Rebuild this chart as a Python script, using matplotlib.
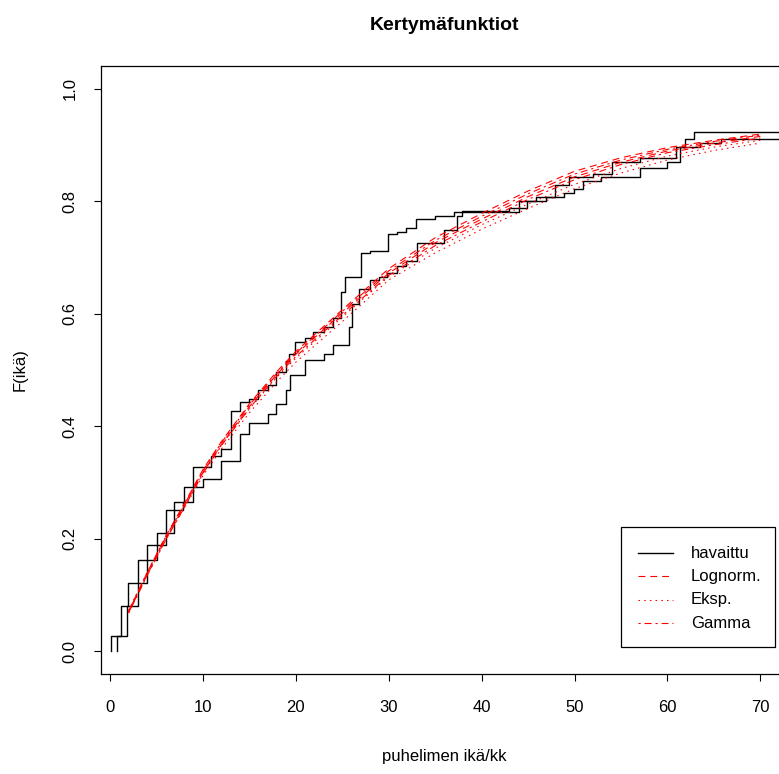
import numpy as np
import matplotlib
matplotlib.use("Agg")
import matplotlib.pyplot as plt
from matplotlib.lines import Line2D
from matplotlib.patches import Rectangle

plt.rcParams['font.family'] = ['Liberation Sans', 'DejaVu Sans']
plt.rcParams['lines.scale_dashes'] = False

obs1_x = [0.1, 1.15, 1.97, 2.98, 3.98, 5.02, 5.99, 6.89, 7.95, 8.97, 10.9, 12.0, 13.0, 14.0,
          15.0, 15.9, 17.0, 17.9, 18.9, 19.3, 19.9, 21.0, 21.9, 23.0, 24.0, 24.9, 25.3, 27.0,
          28.0, 29.9, 30.9, 31.9, 32.9, 35.0, 37.0, 44.0, 44.9, 46.9, 48.9, 49.9, 50.9, 52.9,
          57.1, 59.9, 61.4, 61.9, 62.9]
obs1_f = [0.027, 0.081, 0.122, 0.163, 0.190, 0.211, 0.252, 0.265, 0.292, 0.327, 0.348, 0.360,
          0.428, 0.443, 0.449, 0.464, 0.473, 0.497, 0.516, 0.529, 0.550, 0.557, 0.568, 0.577,
          0.592, 0.639, 0.666, 0.708, 0.712, 0.742, 0.746, 0.752, 0.769, 0.774, 0.781, 0.788,
          0.800, 0.807, 0.815, 0.822, 0.835, 0.843, 0.859, 0.870, 0.897, 0.910, 0.923]

obs2_x = [0.8, 1.83, 2.98, 3.98, 5.02, 5.99, 6.89, 7.89, 8.97, 9.97, 12.0, 14.0, 15.0, 17.0,
          17.9, 18.9, 19.4, 21.0, 23.0, 24.0, 25.7, 26.0, 26.8, 28.0, 28.9, 29.8, 30.9, 31.9,
          33.0, 36.0, 37.4, 37.9, 42.9, 44.0, 45.9, 47.9, 49.4, 52.0, 54.0, 57.0, 60.9, 63.5,
          65.8]
obs2_f = [0.027, 0.081, 0.122, 0.163, 0.190, 0.211, 0.252, 0.265, 0.292, 0.307, 0.339, 0.387,
          0.405, 0.421, 0.440, 0.464, 0.491, 0.517, 0.529, 0.544, 0.577, 0.618, 0.643, 0.660,
          0.666, 0.672, 0.684, 0.693, 0.725, 0.748, 0.774, 0.782, 0.788, 0.800, 0.807, 0.828,
          0.842, 0.849, 0.870, 0.876, 0.897, 0.904, 0.910]

# fitted cdf curves, read at these ages
fit_x = [2, 4, 6, 8, 10, 12, 15, 18, 20, 25, 30, 35, 40, 45, 50, 55, 60, 65, 70]
lnorm1 = [0.072, 0.140, 0.205, 0.263, 0.323, 0.373, 0.440, 0.498, 0.533, 0.607, 0.680, 0.735,
          0.778, 0.818, 0.853, 0.877, 0.895, 0.908, 0.919]
lnorm2 = [0.069, 0.136, 0.200, 0.258, 0.318, 0.368, 0.435, 0.493, 0.528, 0.601, 0.672, 0.726,
          0.768, 0.808, 0.843, 0.869, 0.889, 0.903, 0.915]
gamma1 = [0.071, 0.139, 0.203, 0.261, 0.321, 0.371, 0.438, 0.495, 0.530, 0.604, 0.676, 0.730,
          0.773, 0.813, 0.848, 0.873, 0.892, 0.906, 0.917]
gamma2 = [0.068, 0.135, 0.198, 0.256, 0.316, 0.366, 0.432, 0.490, 0.524, 0.597, 0.668, 0.721,
          0.763, 0.803, 0.838, 0.865, 0.886, 0.900, 0.912]
exp1 = [0.073, 0.141, 0.204, 0.260, 0.318, 0.367, 0.431, 0.488, 0.521, 0.594, 0.666, 0.716,
        0.758, 0.795, 0.830, 0.858, 0.880, 0.896, 0.908]
exp2 = [0.070, 0.137, 0.199, 0.255, 0.312, 0.360, 0.424, 0.480, 0.514, 0.586, 0.660, 0.708,
        0.750, 0.787, 0.822, 0.850, 0.873, 0.890, 0.903]

legend_labels = ["havaittu", "Lognorm.", "Eksp.", "Gamma"]

W, H = 779, 774
fig = plt.figure(figsize=(W / 100, H / 100), dpi=100)
ax = fig.add_axes([101 / W, 100 / H, 686 / W, 608 / H])

dashed = (0, (5, 3.5))
dotted = (0, (1.1, 3))
dashdot = (0, (1.6, 2.8, 5, 2.8))

for xs, fs in [(obs1_x, obs1_f), (obs2_x, obs2_f)]:
    sx = np.r_[xs[0], xs, 80]
    sy = np.r_[0, fs, fs[-1]]
    ax.step(sx, sy, where='post', color='black', lw=1.0)

for ys in (lnorm1, lnorm2):
    ax.plot(fit_x, ys, color='red', lw=0.8, linestyle=dashed)
for ys in (exp1, exp2):
    ax.plot(fit_x, ys, color='red', lw=0.8, linestyle=dotted)
for ys in (gamma1, gamma2):
    ax.plot(fit_x, ys, color='red', lw=0.8, linestyle=dashdot)

ax.set_xlim(-0.97, 72.87)
ax.set_ylim(-0.04, 1.04)
ax.set_xticks(range(0, 80, 10))
ax.set_yticks([0.0, 0.2, 0.4, 0.6, 0.8, 1.0])
ax.set_yticklabels(["0.0", "0.2", "0.4", "0.6", "0.8", "1.0"], rotation=90, va='center')
ax.tick_params(direction='out', length=5, width=0.8, labelsize=12, color='black')
ax.tick_params(axis='x', pad=14)
ax.tick_params(axis='y', pad=12)
for s in ax.spines.values():
    s.set_linewidth(0.9)

ax.set_xlabel("puhelimen ikä/kk", fontsize=12, labelpad=24)
ax.set_ylabel("F(ikä)", fontsize=12, labelpad=25)
fig.text(444 / W, 1 - 26 / H, "Kertymäfunktiot", ha='center', va='center',
         fontsize=14, fontweight='bold')

# legend box drawn by hand, R style
bx0, by0, bx1, by1 = 621, 527, 775, 647
fig.add_artist(Rectangle((bx0 / W, 1 - by1 / H), (bx1 - bx0) / W, (by1 - by0) / H,
                         transform=fig.transFigure, fill=False, lw=0.9, edgecolor='black'))
rows = [553, 576, 599.5, 623]
styles = [('black', '-'), ('red', dashed), ('red', dotted), ('red', dashdot)]
for yy, (c, ls), lab in zip(rows, styles, legend_labels):
    fig.add_artist(Line2D([638 / W, 673 / W], [1 - yy / H, 1 - yy / H],
                          transform=fig.transFigure, color=c, lw=1.0 if c == 'black' else 0.8,
                          linestyle=ls))
    fig.text(691 / W, 1 - yy / H, lab, fontsize=12, va='center', ha='left')

fig.savefig("out.png", dpi=100)
